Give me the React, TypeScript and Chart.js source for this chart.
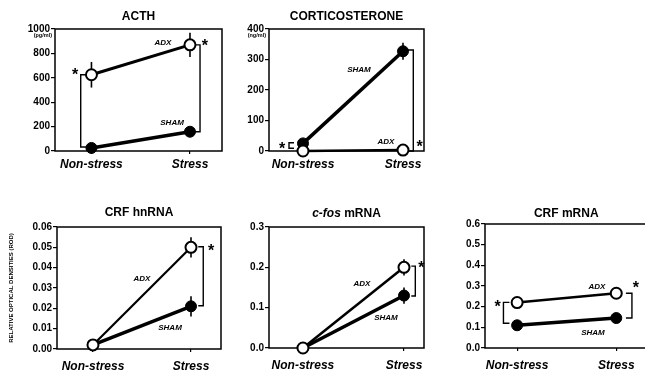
import React, { useEffect, useRef } from "react";
import { Chart, registerables } from "chart.js";
Chart.register(...registerables);

const FONT = "'Liberation Sans', Arial, Helvetica, sans-serif";
Chart.defaults.font.family = FONT;

const categories = ["Non-stress", "Stress"];
const catX = [0, 1];

// ACTH (pg/ml)
const acthTicks = [0, 200, 400, 600, 800, 1000];
const acthAdx = [625, 870];
const acthAdxErr = [105, 100];
const acthSham = [25, 158];
const acthShamErr = [0, 0];

// Corticosterone (ng/ml)
const cortTicks = [0, 100, 200, 300, 400];
const cortAdx = [0, 3];
const cortAdxErr = [0, 0];
const cortSham = [25, 327];
const cortShamErr = [0, 28];

// CRF hnRNA
const hnTicks = [0, 0.01, 0.02, 0.03, 0.04, 0.05, 0.06];
const hnAdx = [0.002, 0.05];
const hnAdxErr = [0, 0.005];
const hnSham = [0.002, 0.021];
const hnShamErr = [0, 0.005];

// c-fos mRNA
const fosTicks = [0, 0.1, 0.2, 0.3];
const fosAdx = [0, 0.2];
const fosAdxErr = [0, 0.02];
const fosSham = [0, 0.13];
const fosShamErr = [0, 0.02];

// CRF mRNA
const crfTicks = [0, 0.1, 0.2, 0.3, 0.4, 0.5, 0.6];
const crfAdx = [0.22, 0.265];
const crfAdxErr = [0, 0];
const crfSham = [0.11, 0.145];
const crfShamErr = [0, 0];

type Bracket = { x: number; y1: number; y2: number; arm: number; starX: number; starY: number };
type Label = { text: string; x: number; y: number };
type TitlePart = { text: string; italic?: boolean };
type PanelCfg = {
  box: { left: number; top: number; width: number; height: number };
  yWidth: number;
  xHeight: number;
  padTop: number;
  padRight: number;
  xMin: number;
  xMax: number;
  ticks: number[];
  decimals: number;
  adx: number[];
  adxErr: number[];
  sham: number[];
  shamErr: number[];
  adxWidth: number;
  title: TitlePart[];
  titleGap: number;
  xPad: number;
  unit?: string;
  yTitle?: string;
  brackets: Bracket[];
  labels: Label[];
};

const panels: PanelCfg[] = [
  {
    box: { left: 0, top: 0, width: 230, height: 175 },
    yWidth: 55, xHeight: 24, padTop: 29, padRight: 8,
    xMin: -0.37, xMax: 1.325,
    ticks: acthTicks, decimals: 0,
    adx: acthAdx, adxErr: acthAdxErr, sham: acthSham, shamErr: acthShamErr, adxWidth: 3,
    title: [{ text: "ACTH" }], titleGap: 12, xPad: 3,
    unit: "(pg/ml)",
    brackets: [
      { x: -0.109, y1: 625, y2: 33, arm: 10, starX: -0.167, starY: 650 },
      { x: 1.102, y1: 870, y2: 158, arm: -10, starX: 1.152, starY: 885 },
    ],
    labels: [
      { text: "ADX", x: 0.726, y: 885 },
      { text: "SHAM", x: 0.818, y: 230 },
    ],
  },
  {
    box: { left: 230, top: 0, width: 210, height: 175 },
    yWidth: 39, xHeight: 24, padTop: 29, padRight: 16,
    xMin: -0.34, xMax: 1.21,
    ticks: cortTicks, decimals: 0,
    adx: cortAdx, adxErr: cortAdxErr, sham: cortSham, shamErr: cortShamErr, adxWidth: 2.5,
    title: [{ text: "CORTICOSTERONE" }], titleGap: 12, xPad: 3,
    unit: "(ng/ml)",
    brackets: [
      { x: -0.14, y1: 27, y2: 9, arm: 5, starX: -0.21, starY: 17 },
      { x: 1.103, y1: 331, y2: 0, arm: -8, starX: 1.167, starY: 23 },
    ],
    labels: [
      { text: "SHAM", x: 0.56, y: 266 },
      { text: "ADX", x: 0.83, y: 30 },
    ],
  },
  {
    box: { left: 0, top: 185, width: 230, height: 188 },
    yWidth: 57, xHeight: 24, padTop: 42, padRight: 9,
    xMin: -0.367, xMax: 1.306,
    ticks: hnTicks, decimals: 2,
    adx: hnAdx, adxErr: hnAdxErr, sham: hnSham, shamErr: hnShamErr, adxWidth: 2.2,
    title: [{ text: "CRF hnRNA" }], titleGap: 14, xPad: 7,
    yTitle: "RELATIVE OPTICAL DENSITIES (ROD)",
    brackets: [{ x: 1.125, y1: 0.0503, y2: 0.0213, arm: -5, starX: 1.204, starY: 0.0498 }],
    labels: [
      { text: "ADX", x: 0.5, y: 0.0344 },
      { text: "SHAM", x: 0.786, y: 0.0103 },
    ],
  },
  {
    box: { left: 230, top: 185, width: 210, height: 188 },
    yWidth: 39, xHeight: 25, padTop: 42, padRight: 16,
    xMin: -0.336, xMax: 1.198,
    ticks: fosTicks, decimals: 1,
    adx: fosAdx, adxErr: fosAdxErr, sham: fosSham, shamErr: fosShamErr, adxWidth: 2.5,
    title: [{ text: "c-fos", italic: true }, { text: " mRNA" }], titleGap: 13, xPad: 7,
    brackets: [{ x: 1.112, y1: 0.203, y2: 0.129, arm: -4, starX: 1.171, starY: 0.206 }],
    labels: [
      { text: "ADX", x: 0.584, y: 0.159 },
      { text: "SHAM", x: 0.822, y: 0.074 },
    ],
  },
  {
    box: { left: 440, top: 185, width: 215, height: 188 },
    yWidth: 45, xHeight: 25, padTop: 39, padRight: 3,
    xMin: -0.324, xMax: 1.315,
    ticks: crfTicks, decimals: 1,
    adx: crfAdx, adxErr: crfAdxErr, sham: crfSham, shamErr: crfShamErr, adxWidth: 2.5,
    title: [{ text: "CRF mRNA" }], titleGap: 10, xPad: 7,
    brackets: [
      { x: -0.138, y1: 0.221, y2: 0.12, arm: 6, starX: -0.196, starY: 0.213 },
      { x: 1.158, y1: 0.265, y2: 0.145, arm: -6, starX: 1.197, starY: 0.305 },
    ],
    labels: [
      { text: "ADX", x: 0.805, y: 0.295 },
      { text: "SHAM", x: 0.765, y: 0.0726 },
    ],
  },
];

function makePlugin(cfg: PanelCfg) {
  return {
    id: "panelDeco",
    beforeDatasetsDraw(chart: any) {
      const { ctx, chartArea: a, scales } = chart;
      const xs = scales.x;
      const ys = scales.y;
      ctx.save();
      ctx.strokeStyle = "#000";
      ctx.lineWidth = 1.5;
      ctx.strokeRect(a.left, a.top, a.right - a.left, a.bottom - a.top);
      ctx.lineWidth = 1.4;
      cfg.brackets.forEach((b) => {
        const bx = xs.getPixelForValue(b.x);
        const py1 = ys.getPixelForValue(b.y1);
        const py2 = ys.getPixelForValue(b.y2);
        ctx.beginPath();
        ctx.moveTo(bx + b.arm, py1);
        ctx.lineTo(bx, py1);
        ctx.lineTo(bx, py2);
        ctx.lineTo(bx + b.arm, py2);
        ctx.stroke();
      });
      ctx.lineWidth = 1.6;
      const series: [number[], number[]][] = [
        [cfg.adx, cfg.adxErr],
        [cfg.sham, cfg.shamErr],
      ];
      series.forEach(([vals, errs]) => {
        vals.forEach((v, i) => {
          const e = errs[i];
          if (!e) return;
          const px = xs.getPixelForValue(catX[i]);
          ctx.beginPath();
          ctx.moveTo(px, ys.getPixelForValue(v + e));
          ctx.lineTo(px, ys.getPixelForValue(v - e));
          ctx.stroke();
        });
      });
      ctx.restore();
    },
    afterDraw(chart: any) {
      const { ctx, chartArea: a, scales } = chart;
      const xs = scales.x;
      const ys = scales.y;
      ctx.save();
      ctx.fillStyle = "#000";
      ctx.textBaseline = "middle";
      ctx.textAlign = "left";
      const fonts = cfg.title.map((p) => `${p.italic ? "italic " : ""}bold 12px ${FONT}`);
      let total = 0;
      cfg.title.forEach((p, i) => {
        ctx.font = fonts[i];
        total += ctx.measureText(p.text).width;
      });
      let tx = (a.left + a.right) / 2 - total / 2;
      cfg.title.forEach((p, i) => {
        ctx.font = fonts[i];
        ctx.fillText(p.text, tx, a.top - cfg.titleGap);
        tx += ctx.measureText(p.text).width;
      });
      if (cfg.unit) {
        ctx.font = `bold 5.5px ${FONT}`;
        ctx.textAlign = "right";
        ctx.fillText(cfg.unit, a.left - 3, a.top + 6);
      }
      ctx.font = `italic bold 8px ${FONT}`;
      ctx.textAlign = "center";
      cfg.labels.forEach((l) => {
        ctx.fillText(l.text, xs.getPixelForValue(l.x), ys.getPixelForValue(l.y));
      });
      ctx.font = `bold 16px ${FONT}`;
      cfg.brackets.forEach((b) => {
        ctx.fillText("*", xs.getPixelForValue(b.starX), ys.getPixelForValue(b.starY) + 4);
      });
      ctx.restore();
    },
  };
}

function Panel({ cfg }: { cfg: PanelCfg }) {
  const ref = useRef<HTMLCanvasElement | null>(null);
  useEffect(() => {
    if (!ref.current) return;
    const yMin = cfg.ticks[0];
    const yMax = cfg.ticks[cfg.ticks.length - 1];
    const chart = new Chart(ref.current, {
      type: "line",
      data: {
        datasets: [
          {
            label: "ADX",
            data: cfg.adx.map((v, i) => ({ x: catX[i], y: v })),
            borderColor: "#000",
            borderWidth: cfg.adxWidth,
            pointRadius: 5.5,
            pointBackgroundColor: "#fff",
            pointBorderColor: "#000",
            pointBorderWidth: 2,
            clip: false,
          },
          {
            label: "SHAM",
            data: cfg.sham.map((v, i) => ({ x: catX[i], y: v })),
            borderColor: "#000",
            borderWidth: 3.5,
            pointRadius: 5.5,
            pointBackgroundColor: "#000",
            pointBorderColor: "#000",
            pointBorderWidth: 1,
            clip: false,
          },
        ],
      },
      options: {
        animation: false,
        responsive: false,
        maintainAspectRatio: false,
        layout: { padding: { top: cfg.padTop, right: cfg.padRight, left: 0, bottom: 0 } },
        plugins: {
          legend: { display: false },
          tooltip: { enabled: false },
          title: { display: false },
        },
        scales: {
          x: {
            type: "linear",
            min: cfg.xMin,
            max: cfg.xMax,
            afterBuildTicks: (s: any) => {
              s.ticks = catX.map((v) => ({ value: v }));
            },
            afterFit: (s: any) => {
              s.height = cfg.xHeight;
            },
            grid: { drawOnChartArea: false, tickLength: 3, color: "#000", lineWidth: 1.2 },
            border: { display: false },
            ticks: {
              callback: (v: any) => categories[Math.round(Number(v))] ?? "",
              font: { size: 12, weight: "bold", style: "italic" },
              color: "#000",
              padding: cfg.xPad,
              maxRotation: 0,
              autoSkip: false,
            },
          },
          y: {
            type: "linear",
            min: yMin,
            max: yMax,
            afterBuildTicks: (s: any) => {
              s.ticks = cfg.ticks.map((v) => ({ value: v }));
            },
            afterFit: (s: any) => {
              s.width = cfg.yWidth;
            },
            grid: { drawOnChartArea: false, tickLength: 4, color: "#000", lineWidth: 1.2 },
            border: { display: false },
            ticks: {
              callback: (v: any) => Number(v).toFixed(cfg.decimals),
              font: { size: 10, weight: "bold" },
              color: "#000",
              padding: 1,
            },
            title: cfg.yTitle
              ? {
                  display: true,
                  text: cfg.yTitle,
                  font: { size: 6, weight: "bold" },
                  color: "#000",
                  padding: { top: 8, bottom: 0 },
                }
              : { display: false },
          },
        },
      } as any,
      plugins: [makePlugin(cfg)],
    });
    return () => chart.destroy();
  }, [cfg]);
  const b = cfg.box;
  return (
    <canvas
      ref={ref}
      width={b.width}
      height={b.height}
      style={{ position: "absolute", left: b.left, top: b.top, width: b.width, height: b.height }}
    />
  );
}

export default function App() {
  return (
    <div
      style={{
        position: "absolute",
        left: 0,
        top: 0,
        width: 645,
        height: 373,
        overflow: "hidden",
        background: "#fff",
      }}
    >
      {panels.map((p, i) => (
        <Panel key={i} cfg={p} />
      ))}
    </div>
  );
}
